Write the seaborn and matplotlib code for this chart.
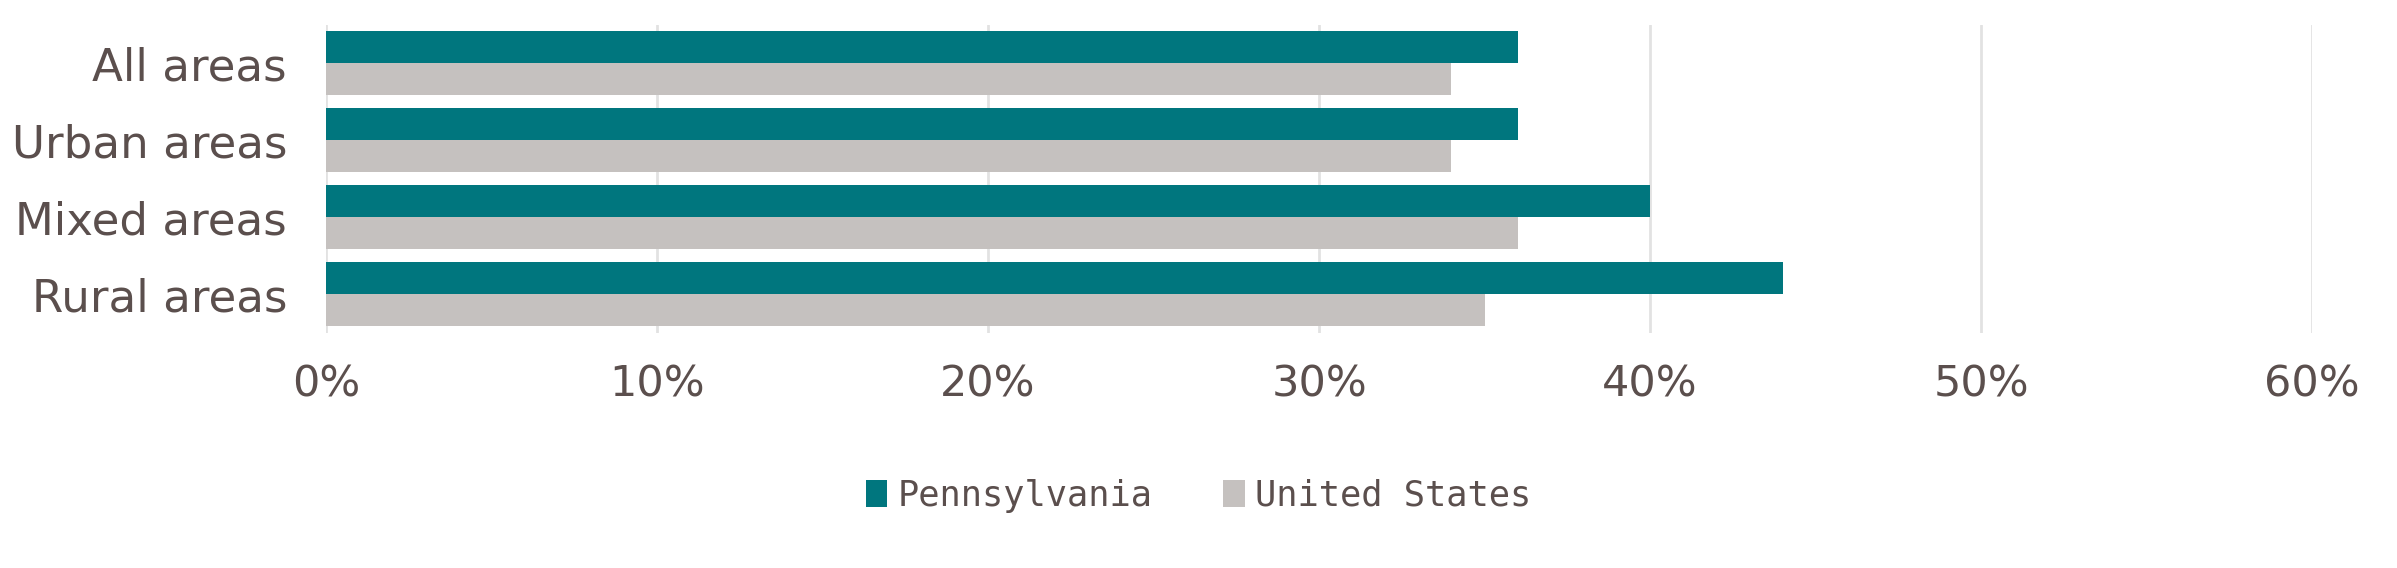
import matplotlib
matplotlib.use("Agg")
import matplotlib.pyplot as plt
import seaborn as sns
import pandas as pd
from matplotlib.ticker import FuncFormatter

categories = ["All areas", "Urban areas", "Mixed areas", "Rural areas"]
pennsylvania = [36, 36, 40, 44]
united_states = [34, 34, 36, 35]
series_names = ["Pennsylvania", "United States"]
x_ticks = [0, 10, 20, 30, 40, 50, 60]

df = pd.DataFrame({
    "area": categories * 2,
    "value": pennsylvania + united_states,
    "series": [series_names[0]] * len(categories) + [series_names[1]] * len(categories),
})

sns.set_theme(style="white")
plt.rcParams["font.family"] = ["DejaVu Sans"]

text_color = "#5b4f4d"
teal = "#00767e"
gray = "#c5c1bf"

fig = plt.figure(figsize=(23.97, 5.68), dpi=100)
ax = fig.add_axes([0.136, 0.4137, 0.8286, 0.543])

sns.barplot(data=df, y="area", x="value", hue="series", orient="h",
            palette=[teal, gray], width=0.83, ax=ax, legend=True,
            saturation=1, linewidth=0)

ax.set_xlim(0, 60)
ax.set_ylim(3.5, -0.5)
ax.set_xticks(x_ticks)
ax.xaxis.set_major_formatter(FuncFormatter(lambda v, p: f"{int(v)}%"))
ax.grid(axis="x", color="#e2e2e2", linewidth=2)
ax.set_axisbelow(True)
for s in ax.spines.values():
    s.set_visible(False)
ax.set_xlabel("")
ax.set_ylabel("")
ax.tick_params(axis="x", length=0, pad=22, labelsize=31, labelcolor=text_color)
ax.tick_params(axis="y", length=0, pad=28, labelsize=32.5, labelcolor=text_color)

handles, labels = ax.get_legend_handles_labels()
ax.legend_.remove()
leg = fig.legend(handles, labels, loc="center", bbox_to_anchor=(0.5, 0.127),
                 ncol=2, frameon=False, handlelength=0.6, handleheight=0.8,
                 handletextpad=0.3, columnspacing=2.0,
                 prop={"family": "DejaVu Sans Mono", "size": 25.5})
for t in leg.get_texts():
    t.set_color(text_color)

fig.savefig("out.png", dpi=100)
